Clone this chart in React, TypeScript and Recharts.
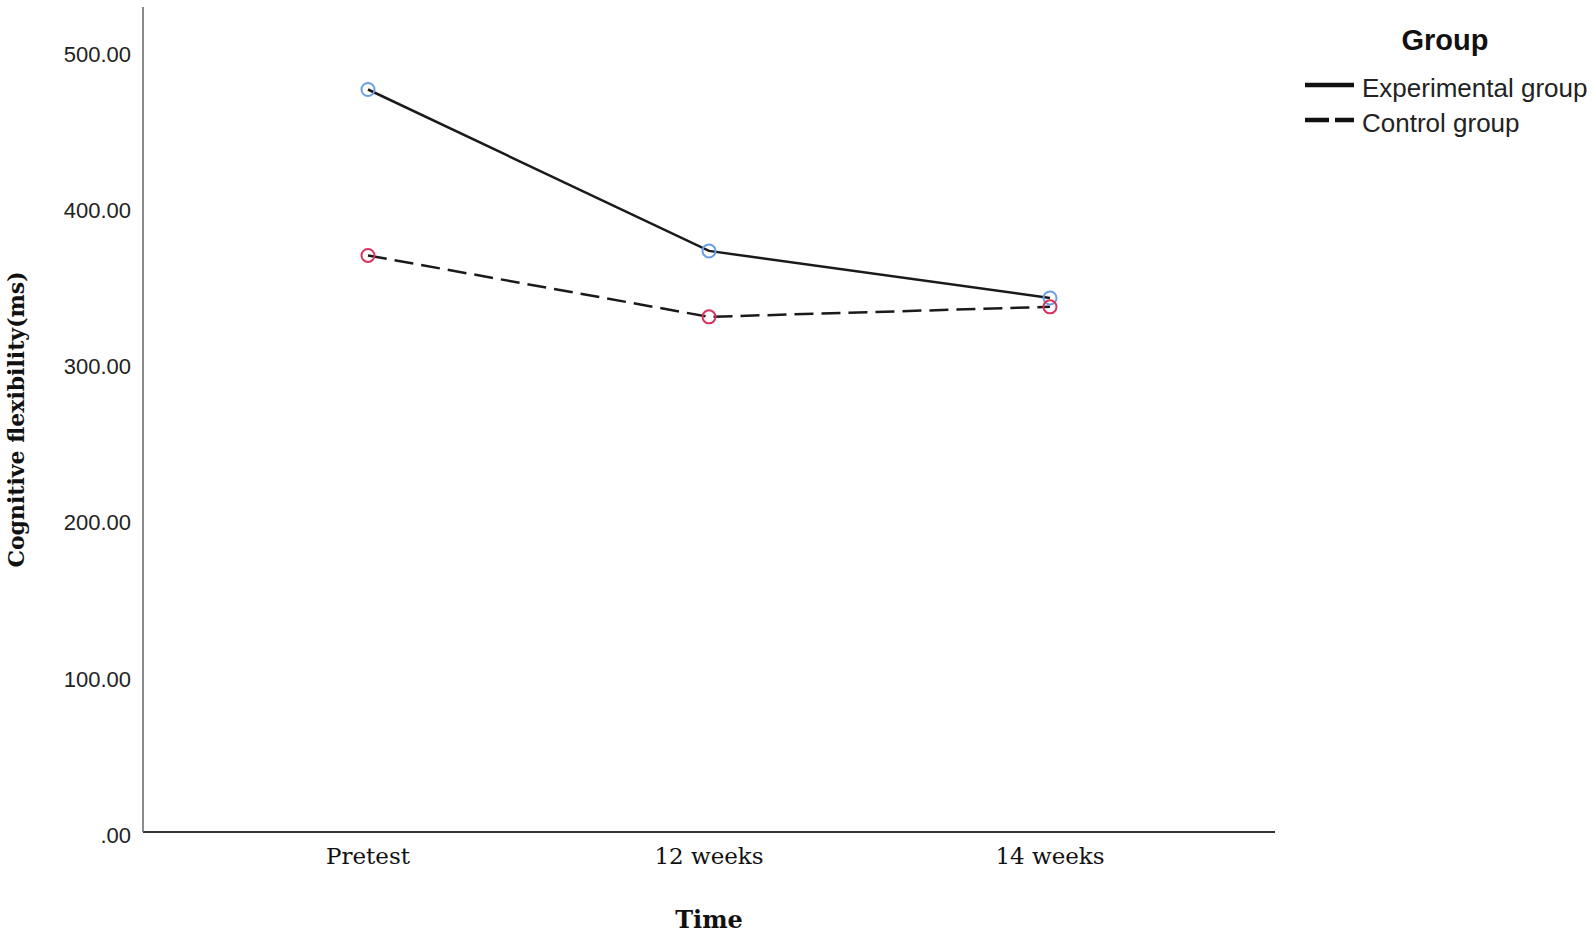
import React from 'react';
import { LineChart, Line, XAxis, YAxis, Legend, Label } from 'recharts';

const TIME_POINTS = ['Pretest', '12 weeks', '14 weeks'];
const EXPERIMENTAL = [475.2, 371.9, 341.8];
const CONTROL = [369.0, 329.7, 336.1];
const Y_TICKS = [0, 100, 200, 300, 400, 500];
const Y_MAX = 528;

const SERIES = [
  { key: 'experimental', name: 'Experimental group', dash: undefined as string | undefined, legendDash: undefined as string | undefined, marker: '#6a9fe6' },
  { key: 'control', name: 'Control group', dash: '19 8', legendDash: '24 6', marker: '#d8325e' },
];

const data = TIME_POINTS.map((t, i) => ({
  time: t,
  experimental: EXPERIMENTAL[i],
  control: CONTROL[i],
}));

const SANS = '"Liberation Sans", Arial, sans-serif';
const SERIF = '"DejaVu Serif", serif';

const makeDot = (color: string) => (props: any) => {
  const { cx, cy, index } = props;
  if (cx == null || cy == null) return <g key={`e-${color}-${index}`} />;
  return (
    <circle
      key={`d-${color}-${index}`}
      cx={cx}
      cy={cy}
      r={6.5}
      fill="none"
      stroke={color}
      strokeWidth={2}
    />
  );
};

const YTitle = (props: any) => {
  const vb = props.viewBox || { x: 0, y: 0, width: 0, height: 0 };
  const x = vb.x + 24;
  const y = vb.y + vb.height / 2;
  return (
    <text
      x={x}
      y={y}
      transform={`rotate(-90 ${x} ${y})`}
      textAnchor="middle"
      fontFamily={SERIF}
      fontWeight="bold"
      fontSize={22}
      fill="#111"
    >
      Cognitive flexibility(ms)
    </text>
  );
};

const XTitle = (props: any) => {
  const vb = props.viewBox || { x: 0, y: 0, width: 0, height: 0 };
  const x = vb.x + vb.width / 2;
  const y = vb.y + vb.height - 7;
  return (
    <text x={x} y={y} textAnchor="middle" fontFamily={SERIF} fontWeight="bold" fontSize={24} fill="#111">
      Time
    </text>
  );
};

const renderLegend = (props: any) => {
  const payload = [...(props.payload || [])].sort(
    (a: any, b: any) =>
      SERIES.findIndex((q) => q.key === a.dataKey) - SERIES.findIndex((q) => q.key === b.dataKey)
  );
  return (
    <svg width={315} height={145} style={{ display: 'block' }}>
      <text x={165} y={50} textAnchor="middle" fontFamily={SANS} fontWeight="bold" fontSize={29} fill="#111">
        Group
      </text>
      {payload.map((entry: any, i: number) => {
        const s = SERIES.find((q) => q.key === entry.dataKey);
        const y = 85 + i * 35;
        return (
          <g key={String(entry.value)}>
            <line x1={25} x2={74} y1={y} y2={y} stroke="#111" strokeWidth={4.5} strokeDasharray={s?.legendDash} />
            <text x={82} y={y + 12} fontFamily={SANS} fontSize={26} fill="#222">
              {entry.value}
            </text>
          </g>
        );
      })}
    </svg>
  );
};

const fmtY = (v: number) => (v === 0 ? '.00' : v.toFixed(2));

const YTick = (props: any) => {
  const { x, y, payload } = props;
  return (
    <text x={x} y={y + 3} dy="0.355em" textAnchor="end" fontFamily={SANS} fontSize={22} fill="#222">
      {fmtY(payload.value)}
    </text>
  );
};

export default function App() {
  return (
    <div style={{ width: 1595, height: 935, background: '#fff' }}>
      <style>{'body{margin:0;background:#fff}'}</style>
      <LineChart width={1595} height={935} data={data} margin={{ top: 7, right: 320, bottom: 0, left: 0 }}>
        <XAxis
          dataKey="time"
          type="category"
          padding={{ left: 225, right: 225 }}
          height={103}
          tickLine={false}
          tickSize={0}
          tickMargin={16}
          axisLine={{ stroke: '#333', strokeWidth: 2 }}
          tick={{ fontFamily: SERIF, fontSize: 23, fill: '#111' }}
          interval={0}
        >
          <Label content={XTitle} />
        </XAxis>
        <YAxis
          type="number"
          domain={[0, Y_MAX]}
          ticks={Y_TICKS}
          width={143}
          tickLine={false}
          tickSize={0}
          tickMargin={12}
          axisLine={{ stroke: '#666', strokeWidth: 1.5 }}
          tick={YTick}
          interval={0}
        >
          <Label content={YTitle} />
        </YAxis>
        <Legend
          layout="vertical"
          align="center"
          verticalAlign="middle"
          content={renderLegend}
          wrapperStyle={{ position: 'absolute', left: 1280, top: 0, width: 315, height: 145 }}
        />
        {SERIES.map((s) => (
          <Line
            key={s.key}
            dataKey={s.key}
            name={s.name}
            type="linear"
            stroke="#1a1a1a"
            strokeWidth={2.5}
            strokeDasharray={s.dash}
            dot={makeDot(s.marker)}
            activeDot={false}
            isAnimationActive={false}
          />
        ))}
      </LineChart>
    </div>
  );
}
